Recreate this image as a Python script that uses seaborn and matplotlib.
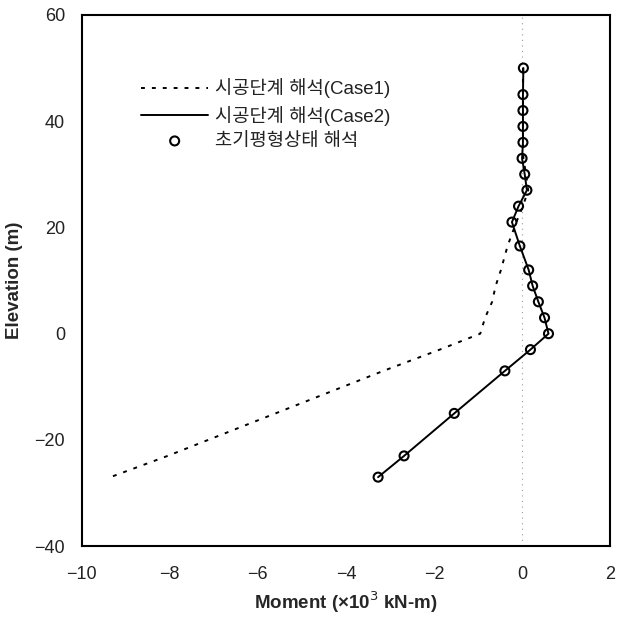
import matplotlib
matplotlib.use("Agg")
import matplotlib.pyplot as plt
import seaborn as sns
import pandas as pd

# Elevation (m)
elev = [50, 45, 42, 39, 36, 33, 30, 27, 24, 21, 16.5, 12, 9, 6, 3, 0, -3, -7, -15, -23, -27]
# Moment (x10^3 kN-m)
case1 = [0.02, 0.02, 0.02, 0.02, 0.02, 0.03, 0.09, 0.14, 0.02, -0.13, -0.33, -0.48, -0.6, -0.68, -0.84,
         -0.95, -1.87, -3.15, -5.6, -8.05, -9.35]
case2 = [0.03, 0.02, 0.02, 0.02, 0.02, 0.0, 0.06, 0.11, -0.08, -0.23, -0.05, 0.15, 0.24, 0.37, 0.51,
         0.6, 0.19, -0.39, -1.54, -2.68, -3.27]
initial = [0.03, 0.02, 0.02, 0.02, 0.02, 0.0, 0.06, 0.11, -0.08, -0.23, -0.05, 0.15, 0.24, 0.37, 0.51,
           0.6, 0.19, -0.39, -1.54, -2.68, -3.27]

labels = ["시공단계 해석(Case1)", "시공단계 해석(Case2)", "초기평형상태 해석"]
x_ticks = [-10, -8, -6, -4, -2, 0, 2]
y_ticks = [-40, -20, 0, 20, 40, 60]

df = pd.DataFrame({"elev": elev, "case1": case1, "case2": case2, "initial": initial})

sns.set_theme(style="white")
plt.rcParams["font.family"] = ["Liberation Sans", "Noto Sans CJK KR", "DejaVu Sans"]
plt.rcParams["axes.unicode_minus"] = True

fig = plt.figure(figsize=(6.29, 6.2), dpi=100)
ax = fig.add_axes([0.130, 0.119, 0.840, 0.857])

ax.axvline(0, color="#9a9a9a", lw=0.8, ls=(0, (1, 4)), zorder=0)

sns.lineplot(data=df, x="case1", y="elev", sort=False, estimator=None, ax=ax,
             color="black", lw=1.4, linestyle=(0, (2.0, 3.6)), label=labels[0])
sns.lineplot(data=df, x="case2", y="elev", sort=False, estimator=None, ax=ax,
             color="black", lw=1.4, label=labels[1])
sns.scatterplot(data=df, x="initial", y="elev", ax=ax, marker="o", s=42,
                facecolor="none", edgecolor="black", linewidth=1.5, label=labels[2], zorder=5)

ax.set_xlim(-10, 2)
ax.set_ylim(-40, 60)
ax.set_xticks(x_ticks)
ax.set_yticks(y_ticks)
ax.tick_params(axis="both", labelsize=13, length=3, width=0.8, direction="out",
               colors="#222222")
ax.tick_params(axis="x", pad=11)
ax.tick_params(axis="y", pad=9)
for s in ax.spines.values():
    s.set_color("black")
    s.set_linewidth(1.5)

ax.set_xlabel("Moment (×10$^{3}$ kN-m)", fontsize=13.5, fontweight="bold", labelpad=5)
ax.set_ylabel("Elevation (m)", fontsize=13.5, fontweight="bold", labelpad=8)

leg = ax.legend(loc="upper left", bbox_to_anchor=(0.08, 0.912), frameon=False,
                fontsize=13.5, handlelength=3.6, handletextpad=0.35, labelspacing=0.38)
for t in leg.get_texts():
    t.set_color("#222222")

fig.savefig("out.png", dpi=100)
